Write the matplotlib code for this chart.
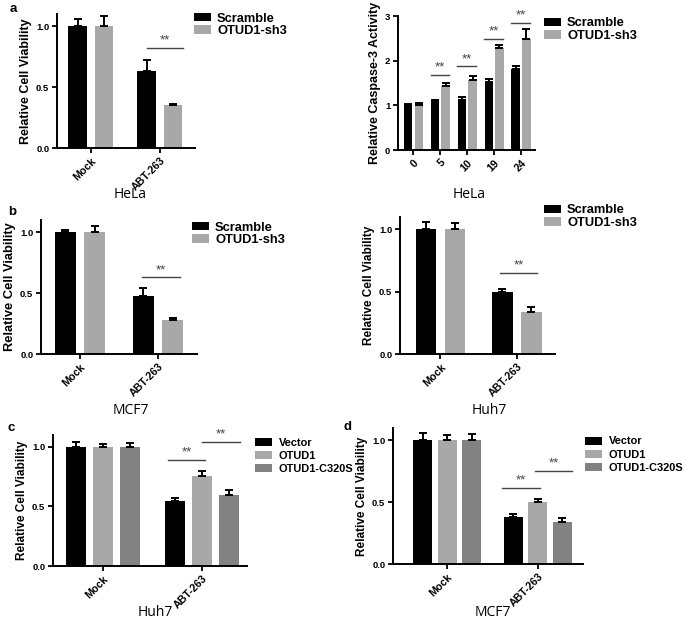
import matplotlib
matplotlib.use("Agg")
import matplotlib.pyplot as plt
import numpy as np

W, H = 685, 625
plt.rcParams['font.family'] = ['Liberation Sans', 'DejaVu Sans']
plt.rcParams['font.weight'] = 'bold'
plt.rcParams['axes.labelweight'] = 'bold'

BLACK = '#000000'
LIGHT = '#a8a8a8'
DARK = '#828282'

# ---------------- data ----------------
cats2 = ['Mock', 'ABT-263']

# panel a left (HeLa)
a1_scr = [1.0, 0.633]
a1_scr_err = [0.057, 0.093]
a1_sh3 = [1.0, 0.356]
a1_sh3_err = [0.08, 0.008]

# panel a right (HeLa caspase-3)
a2_cats = ['0', '5', '10', '19', '24']
a2_scr = [1.0, 1.12, 1.13, 1.53, 1.81]
a2_scr_err = [0.03, 0.01, 0.06, 0.05, 0.08]
a2_sh3 = [1.0, 1.43, 1.57, 2.28, 2.48]
a2_sh3_err = [0.06, 0.08, 0.08, 0.06, 0.23]

# panel b left (MCF7)
b1_scr = [1.0, 0.478]
b1_scr_err = [0.016, 0.06]
b1_sh3 = [1.0, 0.281]
b1_sh3_err = [0.05, 0.017]

# panel b right (Huh7)
b2_scr = [1.0, 0.497]
b2_scr_err = [0.06, 0.027]
b2_sh3 = [1.0, 0.336]
b2_sh3_err = [0.05, 0.038]

# panel c (Huh7)
c_vec = [1.0, 0.548]
c_vec_err = [0.04, 0.025]
c_otu = [1.0, 0.758]
c_otu_err = [0.025, 0.04]
c_mut = [1.0, 0.596]
c_mut_err = [0.034, 0.039]

# panel d (MCF7)
d_vec = [1.0, 0.38]
d_vec_err = [0.057, 0.025]
d_otu = [1.0, 0.505]
d_otu_err = [0.04, 0.019]
d_mut = [1.0, 0.34]
d_mut_err = [0.049, 0.03]

fig = plt.figure(figsize=(W / 100, H / 100), dpi=100)


def make_ax(l, t, r, b):
    ax = fig.add_axes([l / W, 1 - b / H, (r - l) / W, (b - t) / H])
    for s in ['top', 'right']:
        ax.spines[s].set_visible(False)
    for s in ['left', 'bottom']:
        ax.spines[s].set_linewidth(1.4)
    ax.tick_params(axis='both', width=1.3, length=3.5, pad=2)
    ax.tick_params(axis='y', labelsize=6.8)
    ax.tick_params(axis='x', labelsize=7.7)
    return ax


def bars(ax, xs, vals, errs, color, width, label):
    b = ax.bar(xs, vals, width=width, color=color, label=label, zorder=2)
    ax.errorbar(xs, vals, yerr=[np.zeros(len(errs)), errs], fmt='none',
                ecolor='black', elinewidth=1.4, capsize=3, capthick=1.4, zorder=3)
    return b


def sig(ax, x0, x1, y, dy):
    ax.plot([x0, x1], [y, y], color='#444444', lw=1.0, clip_on=False, zorder=4)
    ax.text((x0 + x1) / 2, y + dy, '**', ha='center', va='bottom', fontsize=9.5,
            color='#444444', fontweight='normal', clip_on=False)


def legend(ax, handles, labels, xpx, ypx, fs, hl, hh, ls, tp):
    ax.legend(handles, labels, loc='upper left',
              bbox_to_anchor=(xpx / W, 1 - ypx / H), bbox_transform=fig.transFigure,
              frameon=False, fontsize=fs, handlelength=hl, handleheight=hh,
              handletextpad=tp, labelspacing=ls, borderpad=0, borderaxespad=0)


def legend2(ax, handles, labels, xpx, ypx):
    legend(ax, handles, labels, xpx, ypx, 9.3, 1.32, 0.62, 0.05, 0.47)


def legend3(ax, handles, labels, xpx, ypx):
    legend(ax, handles, labels, xpx, ypx, 7.9, 1.55, 0.7, 0.3, 0.6)


def xlabel(txt, x, y):
    fig.text(x / W, 1 - y / H, txt, ha='center', va='center', fontsize=10,
             fontweight='normal', family=['Open Sans', 'DejaVu Sans'])


def viab_axis(ax, xlim, yfs):
    ax.set_ylim(0, 1.1)
    ax.set_yticks([0.0, 0.5, 1.0])
    ax.set_yticklabels(['0.0', '0.5', '1.0'])
    ax.set_xlim(*xlim)
    ax.set_xticks(range(2))
    ax.set_xticklabels(cats2, rotation=45, ha='right', rotation_mode='anchor')
    ax.set_ylabel('Relative Cell Viability', fontsize=yfs, labelpad=3)


x2 = np.arange(2)

# ---- a left
ax = make_ax(57, 14, 195, 148)
h1 = bars(ax, x2 - 0.19, a1_scr, a1_scr_err, BLACK, 0.27, 'Scramble')
h2 = bars(ax, x2 + 0.19, a1_sh3, a1_sh3_err, LIGHT, 0.27, 'OTUD1-sh3')
viab_axis(ax, (-0.49, 1.51), 9)
sig(ax, 0.81, 1.33, 0.82, 0.01)
legend2(ax, [h1, h2], ['Scramble', 'OTUD1-sh3'], 194, 12.5)
xlabel('HeLa', 130, 194)
fig.text(10 / W, 1 - 9 / H, 'a', fontsize=9.5, fontweight='bold', va='center')

# ---- a right
ax = make_ax(398, 16, 535, 150)
x5 = np.arange(5)
h1 = bars(ax, x5 - 0.2, a2_scr, a2_scr_err, BLACK, 0.31, 'Scramble')
h2 = bars(ax, x5 + 0.2, a2_sh3, a2_sh3_err, LIGHT, 0.31, 'OTUD1-sh3')
ax.set_ylim(0, 3)
ax.set_yticks([0, 1, 2, 3])
ax.set_xlim(-0.57, 4.52)
ax.set_xticks(x5)
ax.set_xticklabels(a2_cats, rotation=45, ha='right', rotation_mode='anchor')
ax.set_ylabel('Relative Caspase-3 Activity', fontsize=9, labelpad=3)
for xc, y in zip([1, 2, 3, 4], [1.69, 1.87, 2.49, 2.84]):
    sig(ax, xc - 0.36, xc + 0.34, y, 0.03)
legend2(ax, [h1, h2], ['Scramble', 'OTUD1-sh3'], 544, 17.5)
xlabel('HeLa', 469, 194)

# ---- b left
ax = make_ax(41, 220, 197, 354)
h1 = bars(ax, x2 - 0.19, b1_scr, b1_scr_err, BLACK, 0.27, 'Scramble')
h2 = bars(ax, x2 + 0.19, b1_sh3, b1_sh3_err, LIGHT, 0.27, 'OTUD1-sh3')
viab_axis(ax, (-0.5, 1.5), 9.3)
sig(ax, 0.79, 1.28, 0.628, 0.01)
legend2(ax, [h1, h2], ['Scramble', 'OTUD1-sh3'], 192, 221.5)
xlabel('MCF7', 131, 410)
fig.text(8 / W, 1 - 212 / H, 'b', fontsize=9.5, fontweight='bold', va='center')

# ---- b right
ax = make_ax(400, 217, 555, 354)
h1 = bars(ax, x2 - 0.19, b2_scr, b2_scr_err, BLACK, 0.27, 'Scramble')
h2 = bars(ax, x2 + 0.19, b2_sh3, b2_sh3_err, LIGHT, 0.27, 'OTUD1-sh3')
viab_axis(ax, (-0.53, 1.5), 8.5)
sig(ax, 0.78, 1.27, 0.65, 0.01)
legend2(ax, [h1, h2], ['Scramble', 'OTUD1-sh3'], 544, 204.5)
xlabel('Huh7', 489, 410)

# ---- c
ax = make_ax(53, 435, 247, 566)
h1 = bars(ax, x2 - 0.27, c_vec, c_vec_err, BLACK, 0.2, 'Vector')
h2 = bars(ax, x2, c_otu, c_otu_err, LIGHT, 0.2, 'OTUD1')
h3 = bars(ax, x2 + 0.27, c_mut, c_mut_err, DARK, 0.2, 'OTUD1-C320S')
viab_axis(ax, (-0.5, 1.45), 8.5)
sig(ax, 0.66, 1.03, 0.893, 0.01)
sig(ax, 1.0, 1.38, 1.045, 0.01)
legend3(ax, [h1, h2, h3], ['Vector', 'OTUD1', 'OTUD1-C320S'], 255, 437.5)
xlabel('Huh7', 155, 612)
fig.text(7 / W, 1 - 428 / H, 'c', fontsize=9.5, fontweight='bold', va='center')

# ---- d
ax = make_ax(393, 428, 583, 564)
h1 = bars(ax, x2 - 0.27, d_vec, d_vec_err, BLACK, 0.21, 'Vector')
h2 = bars(ax, x2, d_otu, d_otu_err, LIGHT, 0.21, 'OTUD1')
h3 = bars(ax, x2 + 0.27, d_mut, d_mut_err, DARK, 0.21, 'OTUD1-C320S')
viab_axis(ax, (-0.6, 1.5), 8.5)
sig(ax, 0.61, 1.02, 0.614, 0.01)
sig(ax, 0.97, 1.38, 0.753, 0.01)
legend3(ax, [h1, h2, h3], ['Vector', 'OTUD1', 'OTUD1-C320S'], 585, 436.5)
xlabel('MCF7', 493, 612)
fig.text(344 / W, 1 - 427 / H, 'd', fontsize=9.5, fontweight='bold', va='center')

fig.savefig('out.png', dpi=100)
